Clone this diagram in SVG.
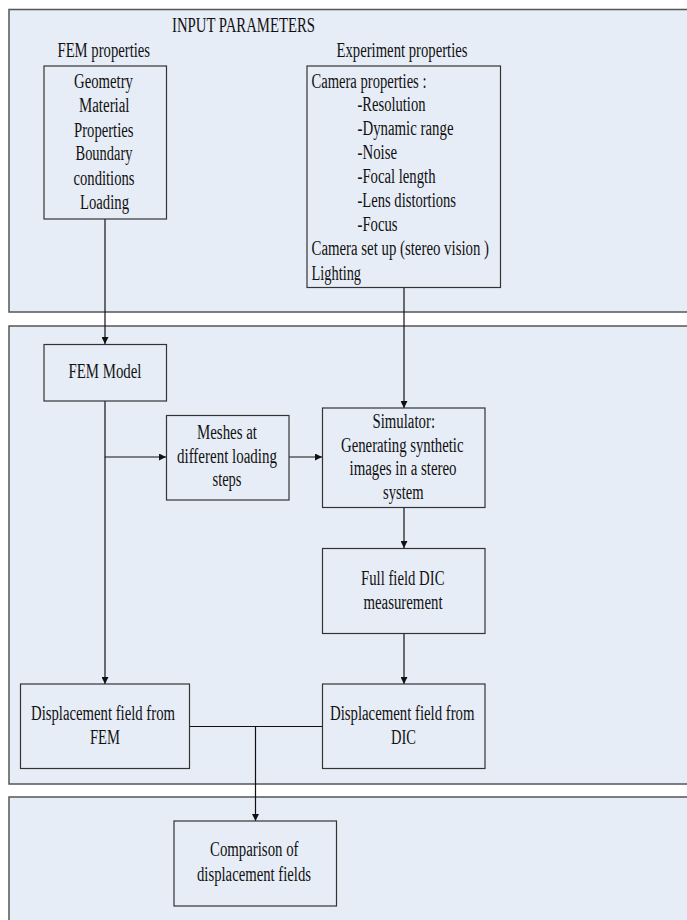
<svg xmlns="http://www.w3.org/2000/svg" width="687" height="920" viewBox="0 0 687 920">
<defs>
<marker id="arr" viewBox="0 0 10 10" refX="10" refY="5" markerWidth="7" markerHeight="7" markerUnits="userSpaceOnUse" orient="auto">
<path d="M0,0 L10,5 L0,10 z" fill="#111"/>
</marker>
<style>
.panel{fill:#e7edf7;stroke:#555;stroke-width:1.5}
.box{fill:#e7edf7;stroke:#333;stroke-width:1.2}
text{font-family:"Liberation Serif","Times New Roman",serif;font-size:20px;fill:#111}
.c{stroke:#111;stroke-width:1.2;fill:none}
.a{marker-end:url(#arr)}
</style>
</defs>
<g id="panels">
<rect class="panel" x="9" y="9.5" width="700" height="302.5"/>
<rect class="panel" x="9" y="326" width="700" height="458"/>
<rect class="panel" x="9" y="797" width="700" height="140"/>
</g>
<g id="panel-labels">
<text x="172" y="32" textLength="143" lengthAdjust="spacingAndGlyphs">INPUT PARAMETERS</text>
<text x="57.5" y="57" textLength="92.5" lengthAdjust="spacingAndGlyphs">FEM properties</text>
<text x="336.5" y="57" textLength="131" lengthAdjust="spacingAndGlyphs">Experiment properties</text>
</g>
<g id="connectors">
<line class="c a" x1="105" y1="219" x2="105" y2="344"/>
<line class="c a" x1="404" y1="287.5" x2="404" y2="408"/>
<polyline class="c a" points="105,401 105,457 166,457"/>
<line class="c a" x1="289" y1="457" x2="322" y2="457"/>
<line class="c a" x1="404" y1="507.5" x2="404" y2="548"/>
<line class="c a" x1="105" y1="457" x2="105" y2="684"/>
<line class="c a" x1="404" y1="633.5" x2="404" y2="684"/>
<line class="c" x1="189.5" y1="726.5" x2="322.5" y2="726.5"/>
<line class="c a" x1="255.5" y1="726.5" x2="255.5" y2="821"/>
</g>
<g id="fem-properties">
<rect class="box" x="44" y="66" width="122.5" height="153"/>
<text x="74" y="88" textLength="59" lengthAdjust="spacingAndGlyphs">Geometry</text>
<text x="79" y="112" textLength="50.5" lengthAdjust="spacingAndGlyphs">Material</text>
<text x="74" y="136.5" textLength="59.5" lengthAdjust="spacingAndGlyphs">Properties</text>
<text x="75.5" y="160" textLength="57" lengthAdjust="spacingAndGlyphs">Boundary</text>
<text x="73.5" y="184.5" textLength="61" lengthAdjust="spacingAndGlyphs">conditions</text>
<text x="80" y="208.5" textLength="49" lengthAdjust="spacingAndGlyphs">Loading</text>
</g>
<g id="experiment-properties">
<rect class="box" x="307" y="66" width="193.5" height="221.5"/>
<text x="311.5" y="87.5" textLength="115" lengthAdjust="spacingAndGlyphs">Camera properties :</text>
<text x="357.5" y="111" textLength="68" lengthAdjust="spacingAndGlyphs">-Resolution</text>
<text x="357.5" y="134.5" textLength="96" lengthAdjust="spacingAndGlyphs">-Dynamic range</text>
<text x="357.5" y="158.5" textLength="39.5" lengthAdjust="spacingAndGlyphs">-Noise</text>
<text x="357.5" y="182.5" textLength="78" lengthAdjust="spacingAndGlyphs">-Focal length</text>
<text x="357.5" y="206.5" textLength="98.5" lengthAdjust="spacingAndGlyphs">-Lens distortions</text>
<text x="357.5" y="230.5" textLength="40" lengthAdjust="spacingAndGlyphs">-Focus</text>
<text x="311.5" y="255" textLength="177.5" lengthAdjust="spacingAndGlyphs">Camera set up (stereo vision )</text>
<text x="311.5" y="279.5" textLength="49.5" lengthAdjust="spacingAndGlyphs">Lighting</text>
</g>
<g id="fem-model">
<rect class="box" x="44" y="344.5" width="122.5" height="56.5"/>
<text x="68.5" y="377.5" textLength="73" lengthAdjust="spacingAndGlyphs">FEM Model</text>
</g>
<g id="meshes">
<rect class="box" x="166.5" y="415.5" width="122.5" height="84.5"/>
<text x="197" y="438.5" textLength="60" lengthAdjust="spacingAndGlyphs">Meshes at</text>
<text x="177" y="463" textLength="100" lengthAdjust="spacingAndGlyphs">different  loading</text>
<text x="212.5" y="485.5" textLength="29" lengthAdjust="spacingAndGlyphs">steps</text>
</g>
<g id="simulator">
<rect class="box" x="322.5" y="408" width="162.5" height="99.5"/>
<text x="372.5" y="427.5" textLength="62.5" lengthAdjust="spacingAndGlyphs">Simulator:</text>
<text x="341" y="451.5" textLength="122.5" lengthAdjust="spacingAndGlyphs">Generating synthetic</text>
<text x="349.5" y="475" textLength="107" lengthAdjust="spacingAndGlyphs">images in a stereo</text>
<text x="383" y="498.5" textLength="40.5" lengthAdjust="spacingAndGlyphs">system</text>
</g>
<g id="dic-measurement">
<rect class="box" x="322.5" y="548.5" width="162.5" height="85"/>
<text x="361" y="585" textLength="83.5" lengthAdjust="spacingAndGlyphs">Full field DIC</text>
<text x="363.5" y="608.5" textLength="79" lengthAdjust="spacingAndGlyphs">measurement</text>
</g>
<g id="disp-fem">
<rect class="box" x="20.5" y="684" width="169" height="84.5"/>
<text x="31" y="720" textLength="144" lengthAdjust="spacingAndGlyphs">Displacement field from</text>
<text x="90" y="743.5" textLength="30" lengthAdjust="spacingAndGlyphs">FEM</text>
</g>
<g id="disp-dic">
<rect class="box" x="322.5" y="684" width="162.5" height="84.5"/>
<text x="330" y="720" textLength="144.5" lengthAdjust="spacingAndGlyphs">Displacement field from</text>
<text x="391" y="743.5" textLength="25" lengthAdjust="spacingAndGlyphs">DIC</text>
</g>
<g id="comparison">
<rect class="box" x="174" y="821" width="162.5" height="85"/>
<text x="210" y="856" textLength="88.5" lengthAdjust="spacingAndGlyphs">Comparison of</text>
<text x="197" y="881" textLength="114" lengthAdjust="spacingAndGlyphs">displacement fields</text>
</g>
</svg>
